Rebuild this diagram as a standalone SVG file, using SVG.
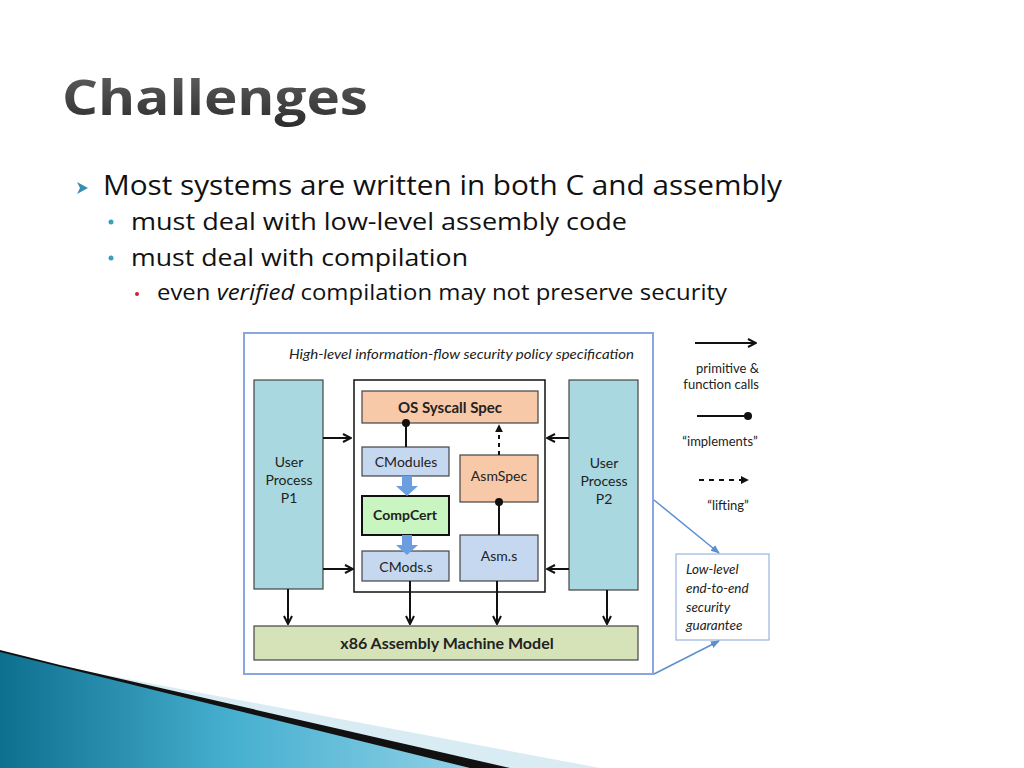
<svg xmlns="http://www.w3.org/2000/svg" width="1024" height="768" viewBox="0 0 1024 768">
<defs>
<style>
text{font-family:"Open Sans","DejaVu Sans",sans-serif;fill:#111}
.d{font-family:Lato,"Open Sans",sans-serif;fill:#222}
.box{stroke:#444;stroke-width:1.2}
.ln{stroke:#111;stroke-width:2;fill:none}
</style>
<marker id="ah" viewBox="0 0 10 10" refX="9" refY="5" markerWidth="5" markerHeight="5" orient="auto"><path d="M1,1 L9,5 L1,9" fill="none" stroke="#111" stroke-width="2"/></marker>
<marker id="dt" viewBox="0 0 10 10" refX="5" refY="5" markerWidth="5" markerHeight="5"><circle cx="5" cy="5" r="4" fill="#111"/></marker>
<marker id="tri" viewBox="0 0 10 10" refX="9" refY="5" markerWidth="4" markerHeight="4" orient="auto"><path d="M0,0 L10,5 L0,10 Z" fill="#111"/></marker>
<marker id="bh" viewBox="0 0 10 10" refX="9" refY="5" markerWidth="6" markerHeight="6" orient="auto"><path d="M0,1 L10,5 L0,9 Z" fill="#5b8fd0"/></marker>
<linearGradient id="tg" x1="0" y1="0" x2="0" y2="1"><stop offset="0" stop-color="#666"/><stop offset="1" stop-color="#2a2a2a"/></linearGradient>
<linearGradient id="bg" x1="0" y1="0" x2="1" y2="0"><stop offset="0" stop-color="#0e6f8f"/><stop offset="0.5" stop-color="#47b0d0"/><stop offset="1" stop-color="#8fd0e6"/></linearGradient>
</defs>
<rect width="1024" height="768" fill="#fff"/>
<g id="decor">
<polygon points="0,655 600,768 0,768" fill="#d9ecf4"/>
<polygon points="0,650 60,665 510,768 0,768" fill="#111"/>
<polygon points="0,652 470,768 0,768" fill="url(#bg)"/>
</g>
<text x="62" y="115" font-size="48" font-weight="bold" style="fill:url(#tg)" font-family="'Open Sans',sans-serif" textLength="306" lengthAdjust="spacingAndGlyphs">Challenges</text>
<polygon points="77,182 88,188 77,194 80,188" fill="#3a8fb0"/>
<text x="103" y="195" font-size="27" textLength="679" lengthAdjust="spacingAndGlyphs">Most systems are written in both C and assembly</text>
<circle cx="111" cy="222" r="2.5" fill="#3a9ec0"/>
<text x="131" y="230" font-size="24" textLength="496" lengthAdjust="spacingAndGlyphs">must deal with low-level assembly code</text>
<circle cx="111" cy="258" r="2.5" fill="#3a9ec0"/>
<text x="131" y="266" font-size="24" textLength="337" lengthAdjust="spacingAndGlyphs">must deal with compilation</text>
<circle cx="137" cy="294" r="2" fill="#d02030"/>
<text x="157" y="300" font-size="21" textLength="570" lengthAdjust="spacingAndGlyphs">even <tspan font-style="italic">verified</tspan> compilation may not preserve security</text>

<g id="outer"><rect x="244" y="333" width="409" height="341" fill="#fff" stroke="#8aa6e0" stroke-width="2"/>
<text class="d" x="289" y="359" font-size="14" font-style="italic" textLength="345" lengthAdjust="spacingAndGlyphs">High-level information-flow security policy specification</text></g>
<g id="p1"><rect class="box" x="254" y="380" width="69" height="209" fill="#a9d8e0"/>
<text class="d" x="289" y="467" font-size="14" text-anchor="middle">User</text><text class="d" x="289" y="485" font-size="14" text-anchor="middle">Process</text><text class="d" x="289" y="503" font-size="14" text-anchor="middle">P1</text></g>
<g id="p2"><rect class="box" x="569" y="380" width="69" height="210" fill="#a9d8e0"/>
<text class="d" x="604" y="468" font-size="14" text-anchor="middle">User</text><text class="d" x="604" y="486" font-size="14" text-anchor="middle">Process</text><text class="d" x="604" y="504" font-size="14" text-anchor="middle">P2</text></g>
<g id="inner"><rect x="354" y="380" width="191" height="212" fill="#fff" stroke="#111" stroke-width="1.5"/></g>
<g id="os"><rect class="box" x="362" y="391" width="176" height="32" fill="#f8c9a8"/><text class="d" x="450" y="413" font-size="15" font-weight="bold" text-anchor="middle">OS Syscall Spec</text></g>
<g id="cmodules"><rect class="box" x="362" y="447" width="87" height="29" fill="#c5d8f0"/><text class="d" x="406" y="467" font-size="14" text-anchor="middle">CModules</text></g>
<g id="compcert"><rect x="362" y="496" width="87" height="39" fill="#c8f5c0" stroke="#111" stroke-width="2"/><text class="d" x="405" y="520" font-size="14" font-weight="bold" text-anchor="middle">CompCert</text></g>
<g id="cmods"><rect class="box" x="362" y="551" width="87" height="30" fill="#c5d8f0"/><text class="d" x="406" y="572" font-size="14" text-anchor="middle">CMods.s</text></g>
<g id="asmspec"><rect class="box" x="460" y="455" width="78" height="47" fill="#f8c9a8"/><text class="d" x="499" y="481" font-size="14" text-anchor="middle">AsmSpec</text></g>
<g id="asm"><rect class="box" x="460" y="535" width="78" height="46" fill="#c5d8f0"/><text class="d" x="499" y="561" font-size="14" text-anchor="middle">Asm.s</text></g>
<g id="x86"><rect class="box" x="254" y="626" width="384" height="34" fill="#d6e2b8"/><text class="d" x="447" y="649" font-size="16" font-weight="bold" text-anchor="middle">x86 Assembly Machine Model</text></g>
<g id="guarantee"><rect x="676" y="554" width="93" height="86" fill="#fff" stroke="#9ab4e0" stroke-width="1.2"/>
<text class="d" font-size="13.5" font-style="italic"><tspan x="686" y="574">Low-level</tspan><tspan x="686" y="593">end-to-end</tspan><tspan x="686" y="612">security</tspan><tspan x="686" y="630">guarantee</tspan></text></g>
<g id="legend">
<line class="ln" x1="695" y1="343" x2="756" y2="343" marker-end="url(#ah)"/>
<text class="d" x="759" y="373" font-size="13" text-anchor="end">primitive &amp;</text>
<text class="d" x="759" y="389" font-size="13" text-anchor="end">function calls</text>
<line class="ln" x1="697" y1="416" x2="748" y2="416" marker-end="url(#dt)"/>
<text class="d" x="720" y="446" font-size="13" text-anchor="middle">“implements”</text>
<line class="ln" x1="699" y1="480" x2="748" y2="480" stroke-dasharray="5,5" marker-end="url(#tri)"/>
<text class="d" x="728" y="510" font-size="13" text-anchor="middle">“lifting”</text>
</g>
<g id="connectors">
<line class="ln" x1="323" y1="438" x2="351" y2="438" marker-end="url(#ah)"/>
<line class="ln" x1="323" y1="569" x2="353" y2="569" marker-end="url(#ah)"/>
<line class="ln" x1="569" y1="438" x2="547" y2="438" marker-end="url(#ah)"/>
<line class="ln" x1="569" y1="569" x2="547" y2="569" marker-end="url(#ah)"/>
<line class="ln" x1="288" y1="589" x2="288" y2="624" marker-end="url(#ah)"/>
<line class="ln" x1="410" y1="581" x2="410" y2="624" marker-end="url(#ah)"/>
<line class="ln" x1="497" y1="581" x2="497" y2="624" marker-end="url(#ah)"/>
<line class="ln" x1="607" y1="590" x2="607" y2="624" marker-end="url(#ah)"/>
<line class="ln" x1="406" y1="447" x2="406" y2="423" marker-end="url(#dt)"/>
<line class="ln" x1="499" y1="535" x2="499" y2="502" marker-end="url(#dt)"/>
<line class="ln" x1="499" y1="455" x2="499" y2="425" stroke-dasharray="4,4" marker-end="url(#tri)"/>
<path d="M402,476 h10 v10 h6 l-11,10 l-11,-10 h6 z" fill="#6a9ee0"/>
<path d="M402,535 h10 v10 h6 l-11,10 l-11,-10 h6 z" fill="#6a9ee0"/>
<line x1="654" y1="500" x2="719" y2="553" stroke="#5b8fd0" stroke-width="1.5" marker-end="url(#bh)"/>
<line x1="654" y1="674" x2="719" y2="641" stroke="#5b8fd0" stroke-width="1.5" marker-end="url(#bh)"/>
</g>
</svg>
